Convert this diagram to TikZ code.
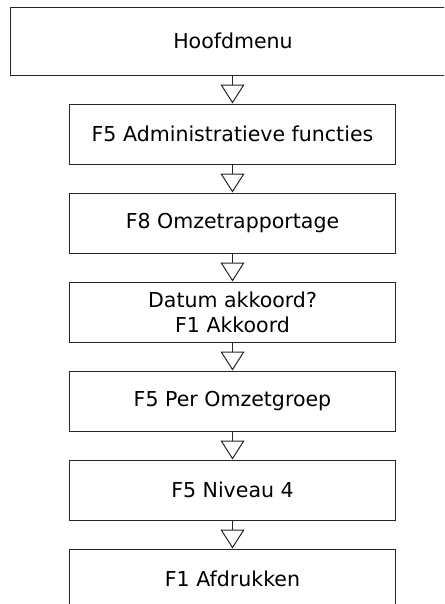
\documentclass[tikz,border=0pt]{standalone}
\usepackage{fontspec}
\setmainfont{DejaVu Sans}
\usetikzlibrary{arrows.meta}
\begin{document}
\begin{tikzpicture}[x=0.75pt,y=-0.75pt,
  base/.style={draw=black!85, line width=0.75pt, inner sep=0pt,
    font=\fontsize{15.4pt}{18.75pt}\selectfont},
  box/.style={base, minimum width=244.5pt, minimum height=45pt, align=center},
  topbox/.style={base, minimum width=379.5pt, minimum height=51pt},
  flow/.style={draw=black!85, line width=0.75pt,
    -{Triangle[open, length=14.25pt, width=18pt, line width=0.75pt]}}]
\fill[white] (0,0) rectangle (444,604);
\useasboundingbox (0,0) rectangle (444,604);
\begin{scope}
\clip (0,0) rectangle (444,604);
\node[topbox] (n1) at (263,41) {\hspace*{-45pt}Hoofdmenu};
\node[box] (n7) at (232.5,579) {F1 Afdrukken};
\end{scope}
\node[box] (n2) at (232.5,134) {F5 Administratieve functies};
\node[box] (n3) at (232.5,223) {F8 Omzetrapportage};
\node[box] (n4) at (232.5,312) {Datum akkoord?\\F1 Akkoord};
\node[box] (n5) at (232.5,401) {F5 Per Omzetgroep};
\node[box] (n6) at (232.5,490) {F5 Niveau 4};
\draw[flow] (n1.south -| n2.north) -- (n2.north);
\draw[flow] (n2) -- (n3);
\draw[flow] (n3) -- (n4);
\draw[flow] (n4) -- (n5);
\draw[flow] (n5) -- (n6);
\draw[flow] (n6) -- (n7);
\end{tikzpicture}
\end{document}
